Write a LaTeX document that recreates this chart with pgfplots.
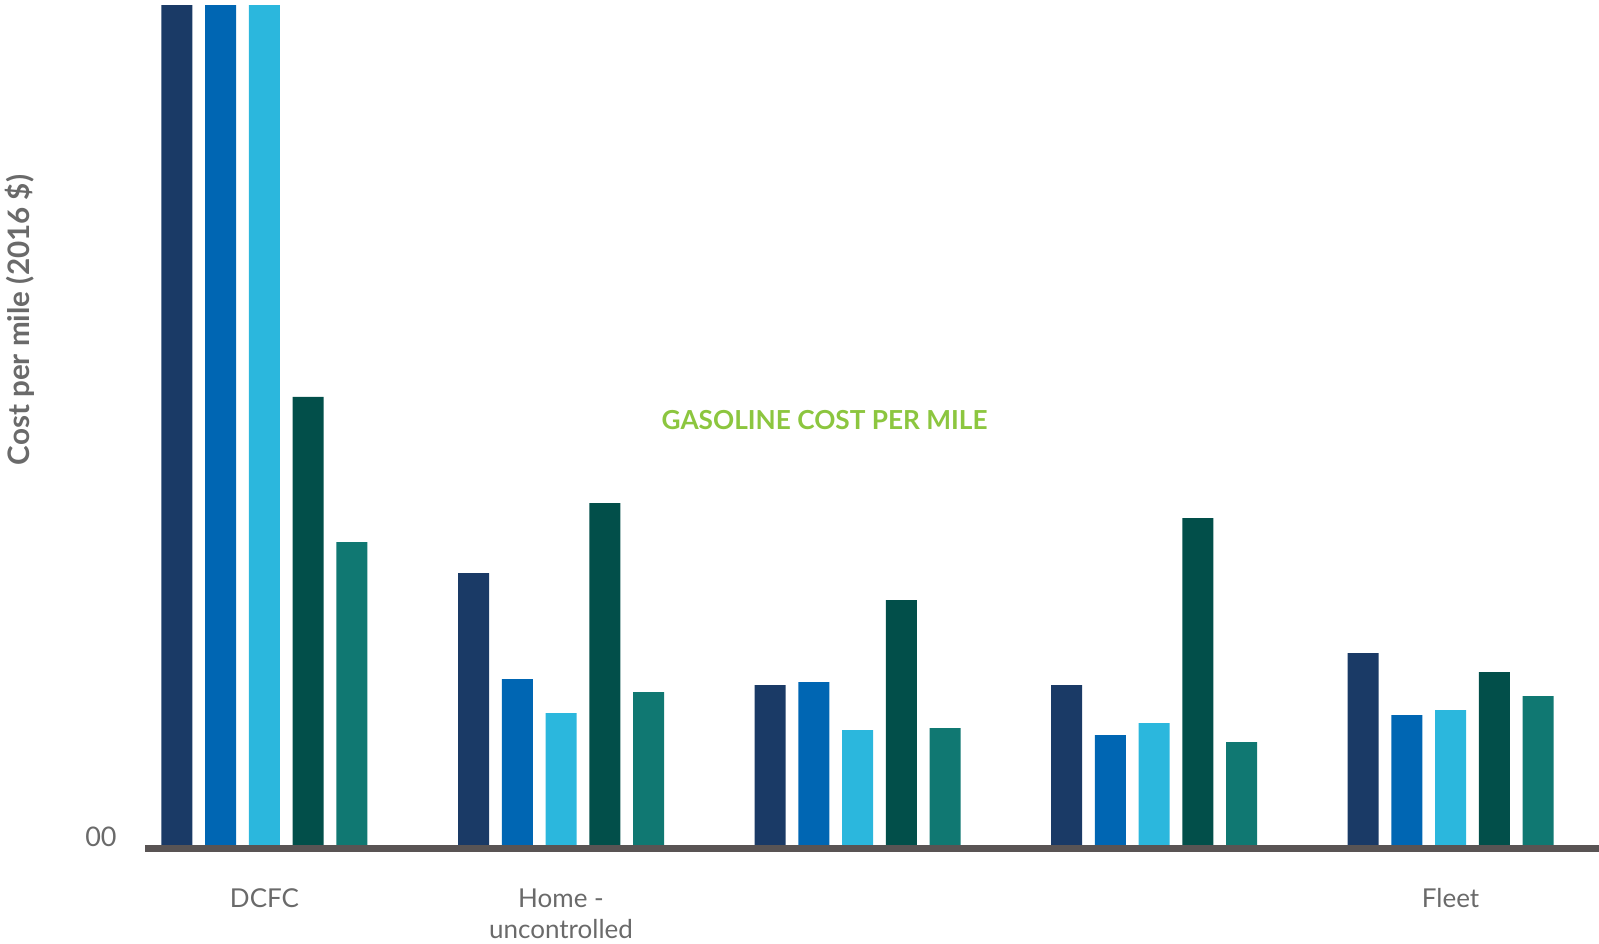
\documentclass[border=0pt]{standalone}
\usepackage{fontspec}
\setmainfont{Lato}
\usepackage{pgfplots}
\pgfplotsset{compat=1.18}
\definecolor{cNavy}{HTML}{1A3A66}
\definecolor{cBlue}{HTML}{0066B3}
\definecolor{cLight}{HTML}{2BB7DD}
\definecolor{cGreen}{HTML}{024F4A}
\definecolor{cTeal}{HTML}{107872}
\definecolor{cBase}{HTML}{595454}
\definecolor{cText}{HTML}{6A6A6A}
\definecolor{cGas}{HTML}{8CC63F}
\begin{document}
\begin{tikzpicture}
\path[use as bounding box] (0,0) rectangle (799.5pt,471.5pt);
\begin{axis}[
  at={(72.5pt,49pt)}, anchor=south west,
  scale only axis, width=727pt, height=419.5pt,
  xmin=-0.4030, xmax=4.5008, ymin=0, ymax=8.39,
  clip mode=individual,
  axis line style={draw=none},
  major tick length=0pt,
  ybar, bar width=15.5pt,
  xtick={0,1,2,3,4},
  xticklabels={DCFC,{Home -\\uncontrolled},{},{},Fleet},
  xticklabel style={anchor=north, inner sep=0pt, yshift=-21.5pt, align=center,
    font=\fontsize{13}{15.5}\selectfont, text=cText},
  ytick={0}, yticklabels={00},
  yticklabel style={anchor=base east, inner sep=0pt, xshift=-14pt, yshift=-0.75pt,
    font=\fontsize{13.5}{15.5}\selectfont, text=cText},
  ylabel={Cost per mile (2016 \$)},
  ylabel style={at={(axis description cs:-0.086,0.6257)}, anchor=center,
    font=\bfseries\fontsize{14.8}{16}\selectfont, text=cText},
]
\addplot[draw=none, fill=cNavy, bar shift=-43.75pt] coordinates {(0,9) (1,2.72) (2,1.60) (3,1.60) (4,1.92)};
\addplot[draw=none, fill=cBlue, bar shift=-21.875pt] coordinates {(0,9) (1,1.66) (2,1.63) (3,1.10) (4,1.30)};
\addplot[draw=none, fill=cLight, bar shift=0pt] coordinates {(0,9) (1,1.32) (2,1.15) (3,1.22) (4,1.35)};
\addplot[draw=none, fill=cGreen, bar shift=21.875pt] coordinates {(0,4.48) (1,3.42) (2,2.45) (3,3.27) (4,1.73)};
\addplot[draw=none, fill=cTeal, bar shift=43.75pt] coordinates {(0,3.03) (1,1.53) (2,1.17) (3,1.03) (4,1.49)};
\draw[cBase, line width=3.5pt] ([yshift=-1.75pt]rel axis cs:0,0) -- ([yshift=-1.75pt]rel axis cs:1,0);
\node[text=cGas, font=\bfseries\fontsize{13.1}{15}\selectfont] at (axis cs:1.889,4.25) {GASOLINE COST PER MILE};
\end{axis}
\end{tikzpicture}
\end{document}
